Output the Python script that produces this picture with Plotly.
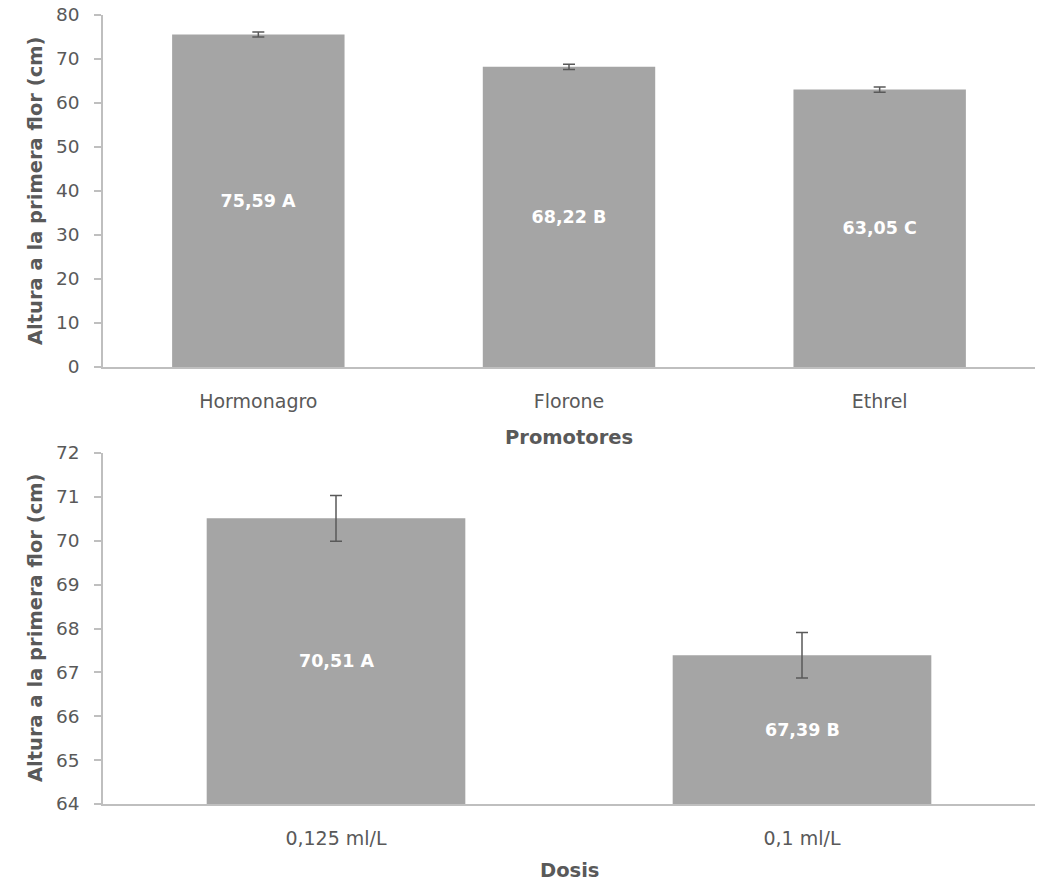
import plotly.graph_objects as go

# Top chart data
promotores = ["Hormonagro", "Florone", "Ethrel"]
altura_prom = [75.59, 68.22, 63.05]
err_prom = [0.57, 0.6, 0.6]
labels_prom = ["75,59 A", "68,22 B", "63,05 C"]

# Bottom chart data
dosis = ["0,125 ml/L", "0,1 ml/L"]
altura_dosis = [70.51, 67.39]
err_dosis = [0.52, 0.52]
labels_dosis = ["70,51 A", "67,39 B"]
y2_range = [64, 72]

BAR = "#A5A5A5"
TXT = "#595959"
AX = "#BFBFBF"
FONT = "DejaVu Sans"
W, H = 1045, 886

fig = go.Figure()
fig.add_trace(go.Bar(
    x=promotores, y=altura_prom, marker_color=BAR, marker_line_width=0,
    text=labels_prom, textposition="inside", insidetextanchor="middle",
    textfont=dict(color="white", size=17.5, family=FONT, weight="bold"),
    error_y=dict(type="data", array=err_prom, color=TXT, thickness=1.5, width=6),
    xaxis="x", yaxis="y", showlegend=False, hoverinfo="skip"))
fig.add_trace(go.Bar(
    x=dosis, y=altura_dosis, marker_color=BAR, marker_line_width=0,
    error_y=dict(type="data", array=err_dosis, color=TXT, thickness=1.5, width=6),
    xaxis="x2", yaxis="y2", showlegend=False, hoverinfo="skip"))

# labels in the middle of the visible part of the bottom bars
for cat, val, lab in zip(dosis, altura_dosis, labels_dosis):
    fig.add_annotation(x=cat, y=(val + y2_range[0]) / 2, xref="x2", yref="y2",
                       text=lab, showarrow=False,
                       font=dict(color="white", size=17.5, family=FONT, weight="bold"))

xd = [103 / W, 1035 / W]
top_dom = [1 - 367 / H, 1 - 15 / H]
bot_dom = [1 - 804 / H, 1 - 453 / H]

common_x = dict(showline=True, linecolor=AX, linewidth=1.5, ticks="", showgrid=False,
                tickfont=dict(size=19, color=TXT, family=FONT), ticklabelstandoff=16,
                zeroline=False, automargin=False)
common_y = dict(showline=True, linecolor=AX, linewidth=1.5, ticks="outside", ticklen=7,
                tickcolor=AX, tickwidth=1.5, showgrid=False, zeroline=False,
                tickfont=dict(size=18.5, color=TXT, family=FONT), ticklabelstandoff=11,
                automargin=False)

fig.update_layout(
    width=W, height=H,
    margin=dict(l=0, r=0, t=0, b=0, autoexpand=False),
    paper_bgcolor="white", plot_bgcolor="white",
    bargap=0.445,
    font=dict(family=FONT, color=TXT),
    xaxis=dict(domain=xd, anchor="y", **common_x),
    yaxis=dict(domain=top_dom, anchor="x", range=[0, 80], dtick=10, **common_y),
    xaxis2=dict(domain=xd, anchor="y2", **common_x),
    yaxis2=dict(domain=bot_dom, anchor="x2", range=y2_range, dtick=1, **common_y),
)

title_font = dict(size=19.5, color=TXT, family=FONT, weight="bold")
for txt, x, y, ang in [
    ("Altura a la primera flor (cm)", 35 / W, 1 - 191 / H, -90),
    ("Altura a la primera flor (cm)", 35 / W, 1 - 628 / H, -90),
    ("Promotores", 569 / W, 1 - 437 / H, 0),
    ("Dosis", 569 / W, 1 - 870 / H, 0),
]:
    fig.add_annotation(text=txt, x=x, y=y, xref="paper", yref="paper",
                       xanchor="center", yanchor="middle", textangle=ang,
                       showarrow=False, font=title_font)

fig.write_html("out.html", config={"displayModeBar": False})

# remove the default page margin so the figure fills the window exactly
with open("out.html", "r", encoding="utf-8") as f:
    html = f.read()
html = html.replace("<head>", "<head><style>html,body{margin:0;padding:0;overflow:hidden;}</style>", 1)
with open("out.html", "w", encoding="utf-8") as f:
    f.write(html)
